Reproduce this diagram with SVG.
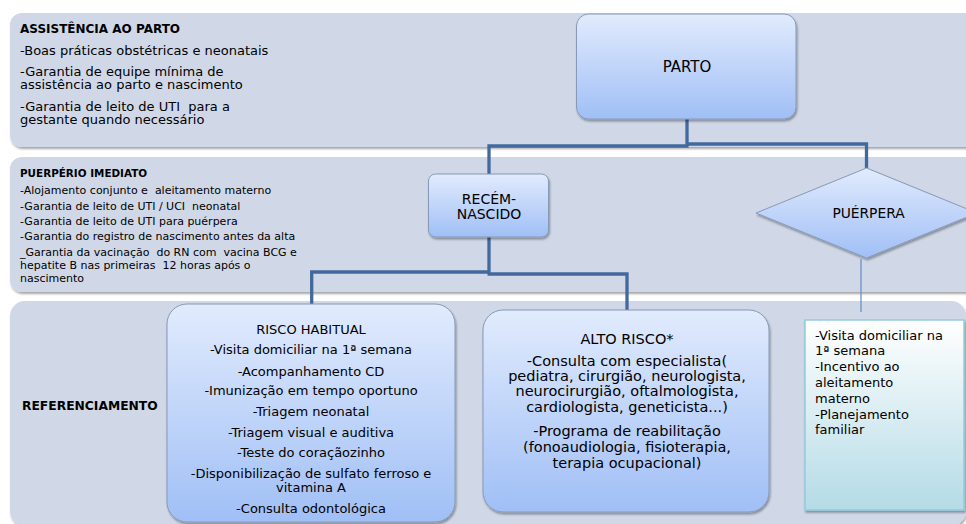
<svg xmlns="http://www.w3.org/2000/svg" width="966" height="524" viewBox="0 0 966 524">
<style>
.band{fill:#d0d8e8;filter:url(#sh)}
.node{fill:url(#g);stroke:#8799b6;stroke-width:1;filter:url(#sh)}
.conn{fill:none;stroke:#41699e;stroke-width:3.3}
.thin{fill:none;stroke:#6b93c8;stroke-width:1.3}
text{font-family:"DejaVu Sans","Liberation Sans",sans-serif;fill:#000;white-space:pre}
.b{font-weight:bold}
.c{text-anchor:middle}
</style>
<defs>
<linearGradient id="g" x1="0" y1="0" x2="0" y2="1"><stop offset="0" stop-color="#e1ebfd"/><stop offset="1" stop-color="#a0bff6"/></linearGradient>
<linearGradient id="gc" x1="0" y1="0" x2="0" y2="1"><stop offset="0" stop-color="#ffffff"/><stop offset="1" stop-color="#b4dbe6"/></linearGradient>
<filter id="sh" x="-5%" y="-5%" width="110%" height="120%"><feDropShadow dx="1" dy="2" stdDeviation="1.2" flood-color="#000" flood-opacity="0.35"/></filter>
</defs>
<rect width="966" height="524" fill="#ffffff"/>

<g id="band-parto">
<rect class="band" x="10" y="13" width="975" height="134" rx="12"/>
<text x="20" y="32.5" class="b" font-size="12">ASSISTÊNCIA AO PARTO</text>
<text x="20" y="54.5" font-size="13">-Boas práticas obstétricas e neonatais</text>
<text x="20" y="75.5" font-size="13">-Garantia de equipe mínima de</text>
<text x="20" y="89" font-size="13">assistência ao parto e nascimento</text>
<text x="20" y="110.5" font-size="13">-Garantia de leito de UTI  para a</text>
<text x="20" y="124" font-size="13">gestante quando necessário</text>
</g>

<g id="band-puerperio">
<rect class="band" x="10" y="157" width="975" height="135" rx="12"/>
<text x="20" y="177" class="b" font-size="10.4">PUERPÉRIO IMEDIATO</text>
<text x="20" y="194" font-size="11">-Alojamento conjunto e  aleitamento materno</text>
<text x="20" y="210" font-size="11">-Garantia de leito de UTI / UCI  neonatal</text>
<text x="20" y="224.5" font-size="11">-Garantia de leito de UTI para puérpera</text>
<text x="20" y="240" font-size="11">-Garantia do registro de nascimento antes da alta</text>
<text x="20" y="255.5" font-size="11">_Garantia da vacinação  do RN com  vacina BCG e</text>
<text x="20" y="269" font-size="11">hepatite B nas primeiras  12 horas após o</text>
<text x="20" y="281.5" font-size="11">nascimento</text>
</g>

<g id="band-referenciamento">
<rect class="band" x="10" y="301" width="956" height="225" rx="15"/>
<text x="22" y="410" class="b" font-size="12.3">REFERENCIAMENTO</text>
</g>

<g id="connectors">
<path class="conn" d="M687,119 V146.5 M489,174 V146 H688.5 M686,144 H866.5 V168"/>
<path class="conn" d="M489,237 V274 M490.5,272 H311.7 V304 M487.5,274 H627 V310"/>
<path class="thin" d="M861,259 V312"/>
</g>

<g id="node-parto">
<rect class="node" x="576.5" y="14" width="219.5" height="105" rx="12"/>
<text x="687" y="72" class="c" font-size="15">PARTO</text>
</g>

<g id="node-recem-nascido">
<rect class="node" x="428.5" y="174" width="120" height="63" rx="7"/>
<text x="489" y="203.5" class="c" font-size="14">RECÉM-</text>
<text x="489" y="218.5" class="c" font-size="14">NASCIDO</text>
</g>

<g id="node-puerpera">
<polygon class="node" points="866.5,168 977,213 866.5,258 756,213"/>
<text x="868.5" y="217.5" class="c" font-size="13.8">PUÉRPERA</text>
</g>

<g id="node-risco-habitual">
<rect class="node" x="167" y="304" width="288" height="218" rx="20"/>
<text x="311" y="334" class="c" font-size="13">RISCO HABITUAL</text>
<text x="311" y="353.5" class="c" font-size="13">-Visita domiciliar na 1ª semana</text>
<text x="311" y="375.5" class="c" font-size="13">-Acompanhamento CD</text>
<text x="311" y="394.5" class="c" font-size="13">-Imunização em tempo oportuno</text>
<text x="311" y="415.5" class="c" font-size="13">-Triagem neonatal</text>
<text x="311" y="436.5" class="c" font-size="13">-Triagem visual e auditiva</text>
<text x="311" y="456.5" class="c" font-size="13">-Teste do coraçãozinho</text>
<text x="311" y="477.5" class="c" font-size="13">-Disponibilização de sulfato ferroso e</text>
<text x="311" y="491.5" class="c" font-size="13">vitamina A</text>
<text x="311" y="512.5" class="c" font-size="13">-Consulta odontológica</text>
</g>

<g id="node-alto-risco">
<rect class="node" x="483" y="310" width="286" height="202" rx="20"/>
<text x="627" y="344" class="c" font-size="14.5">ALTO RISCO*</text>
<text x="627" y="366" class="c" font-size="14.5">-Consulta com especialista(</text>
<text x="627" y="381" class="c" font-size="14.5">pediatra, cirurgião, neurologista,</text>
<text x="627" y="396" class="c" font-size="14.5">neurocirurgião, oftalmologista,</text>
<text x="627" y="412" class="c" font-size="14.5">cardiologista, geneticista...)</text>
<text x="627" y="436" class="c" font-size="14.5">-Programa de reabilitação</text>
<text x="627" y="452" class="c" font-size="14.5">(fonoaudiologia, fisioterapia,</text>
<text x="627" y="468" class="c" font-size="14.5">terapia ocupacional)</text>
</g>

<g id="node-puerpera-cuidados">
<rect x="805" y="320" width="159" height="190" fill="url(#gc)" stroke="#92cbdb" stroke-width="1.5" filter="url(#sh)"/>
<text x="815" y="339.5" font-size="13">-Visita domiciliar na</text>
<text x="815" y="355.3" font-size="13">1ª semana</text>
<text x="815" y="371.1" font-size="13">-Incentivo ao</text>
<text x="815" y="386.9" font-size="13">aleitamento</text>
<text x="815" y="402.7" font-size="13">materno</text>
<text x="815" y="418.5" font-size="13">-Planejamento</text>
<text x="815" y="434.3" font-size="13">familiar</text>
</g>
</svg>
